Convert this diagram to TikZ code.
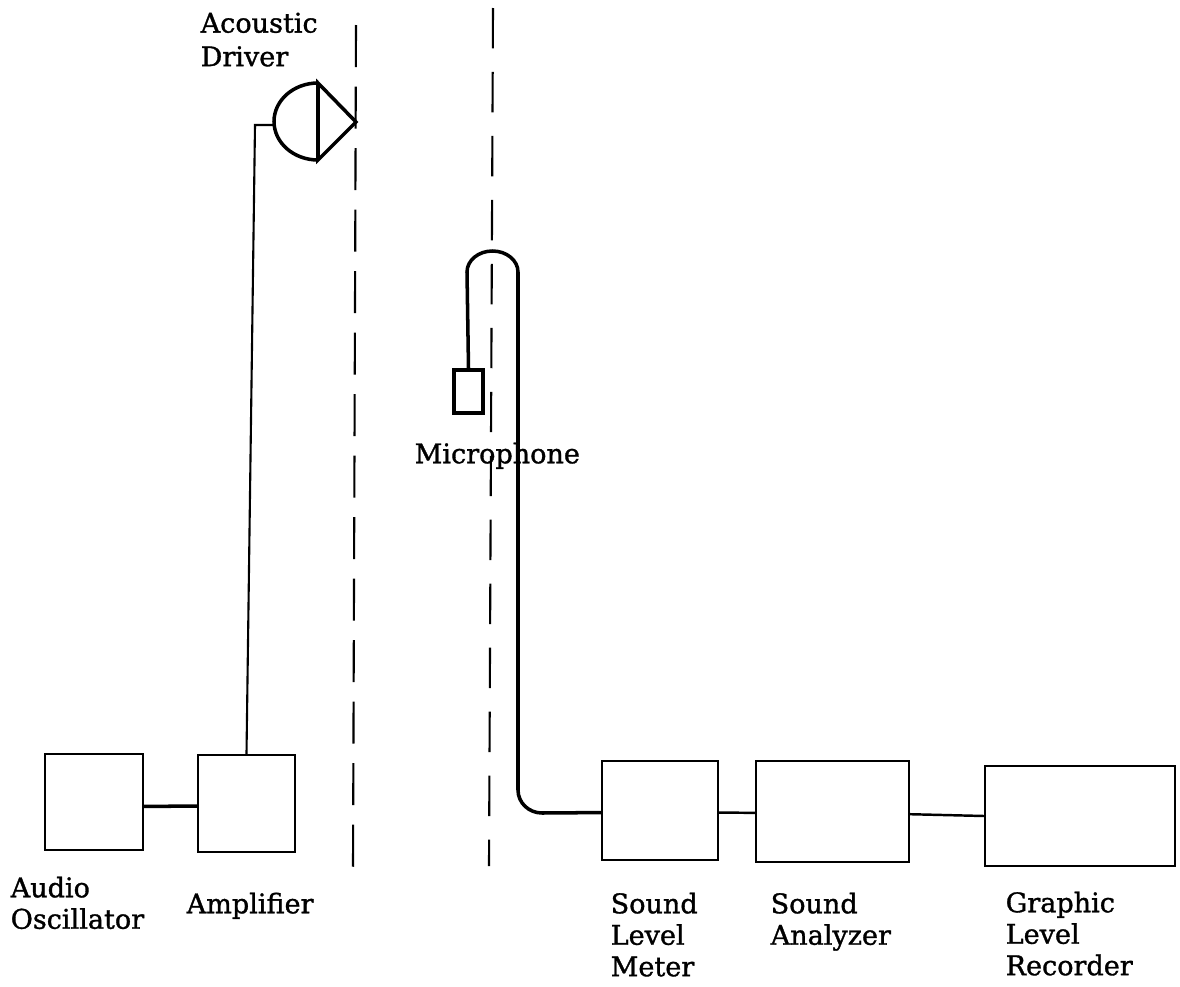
\documentclass[tikz,border=0pt]{standalone}
\usepackage{fontspec}
\setmainfont{DejaVu Serif}[FakeBold=1.2]
\tikzset{
  unitbox/.style={draw, line width=0.6pt, inner sep=0pt},
  unitlabel/.style={anchor=north west, align=left, inner sep=0pt, font=\fontsize{7.7}{8.95}\selectfont},
  wire/.style={line width=1pt},
  centerline/.style={line width=0.6pt, dash pattern=on 12pt off 5.5pt},
  centerlineb/.style={line width=0.6pt, dash pattern=on 11.5pt off 6.7pt}
}
\begin{document}
\begin{tikzpicture}
  \useasboundingbox (0,0) rectangle (11.8,9.86);
  \node[unitbox, minimum width=0.98cm, minimum height=0.96cm] (oscillator) at (0.94,1.84) {};
  \node[unitbox, minimum width=0.97cm, minimum height=0.97cm] (amplifier) at (2.465,1.825) {};
  \node[unitbox, minimum width=1.16cm, minimum height=0.99cm] (meter) at (6.60,1.755) {};
  \node[unitbox, minimum width=1.53cm, minimum height=1.01cm] (analyzer) at (8.325,1.745) {};
  \node[unitbox, minimum width=1.90cm, minimum height=1.00cm] (recorder) at (10.80,1.70) {};
  \node[draw, line width=1pt, inner sep=0pt, minimum width=0.29cm, minimum height=0.43cm] (micbox) at (4.685,5.945) {};

  \coordinate (drvtop) at (3.18,9.03);
  \coordinate (drvbot) at (3.18,8.26);
  \coordinate (drvtip) at (3.56,8.64);
  \coordinate (drvback) at (2.74,8.61);
  \coordinate (drvbend) at (2.55,8.61);
  \coordinate (ltop) at (3.56,9.61);
  \coordinate (lbot) at (3.53,1.18);
  \coordinate (rtop) at (4.93,9.78);
  \coordinate (rbot) at (4.89,1.20);
  \coordinate (camleft) at (4.67,7.14);
  \coordinate (cabcorner) at (5.18,1.96);

  \draw[centerline] (ltop) -- (lbot);
  \draw[centerlineb] (rtop) -- (rbot);

  \draw[wire] (drvtop) arc[start angle=90, end angle=270, x radius=0.44cm, y radius=0.385cm];
  \draw[wire] (drvtop) -- (drvbot) -- (drvtip) -- cycle;
  \draw[line width=0.6pt] (amplifier.north) -- (drvbend) -- (drvback);

  \draw[wire] (micbox.north) -- (camleft) arc[start angle=180, end angle=0, x radius=0.255cm, y radius=0.21cm] -- (cabcorner) to[out=-90, in=180] (5.42,1.73) -- (meter.182.5);

  \draw[wire] (oscillator.-5) -- (amplifier.-177);
  \draw[line width=0.7pt] (meter.-2.5) -- (analyzer.181.1);
  \draw[line width=0.7pt] (analyzer.-2.6) -- (recorder.west);

  \node[unitlabel] (driverlabel) at (2.00,9.74) {Acoustic\\[0.6pt]Driver};
  \node[unitlabel] (oscillatorlabel) at (0.10,1.10) {Audio\\Oscillator};
  \node[unitlabel] (amplifierlabel) at (1.86,0.94) {Amplifier};
  \node[unitlabel] (miclabel) at (4.14,5.44) {Microphone};
  \node[unitlabel] (meterlabel) at (6.10,0.94) {Sound\\Level\\Meter};
  \node[unitlabel] (analyzerlabel) at (7.70,0.94) {Sound\\Analyzer};
  \node[unitlabel] (recorderlabel) at (10.05,0.95) {Graphic\\Level\\Recorder};
\end{tikzpicture}
\end{document}
